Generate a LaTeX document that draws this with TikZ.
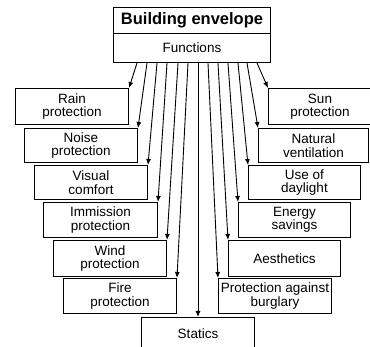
\documentclass[tikz,border=0pt]{standalone}
\usepackage{fontspec}
\setmainfont{Liberation Sans}
\usetikzlibrary{arrows.meta}
\begin{document}
\begin{tikzpicture}[x=1pt,y=-1pt,
  box/.style={draw=black,line width=1pt,fill=white,anchor=north west,inner sep=0pt,
    align=center,font=\fontsize{13.5}{13.5}\selectfont},
  conn/.style={line width=0.9pt,-{Latex[length=6pt,width=5pt]}}]
\clip (0,0) rectangle (370,347);
\fill[white] (0,0) rectangle (370,347);
% title boxes
\node[box,minimum width=157pt,minimum height=26pt,font=\fontsize{16.5}{18}\bfseries] (be) at (113,7) {Building envelope};
\node[box,minimum width=157pt,minimum height=29pt] (fn) at (113,33) {Functions};
% left column
\node[box,minimum width=113pt,minimum height=36pt] (rain) at (15,88) {Rain\\protection};
\node[box,minimum width=113pt,minimum height=34pt] (noise) at (24,128) {Noise\\protection};
\node[box,minimum width=113pt,minimum height=34pt] (visual) at (34,165) {Visual\\comfort};
\node[box,minimum width=114pt,minimum height=35pt] (immi) at (43,202) {Immission\\protection};
\node[box,minimum width=113pt,minimum height=36pt] (wind) at (53,240) {Wind\\protection};
\node[box,minimum width=113pt,minimum height=35pt] (fire) at (63,278) {Fire\\protection};
% bottom
\node[box,minimum width=113pt,minimum height=33pt] (statics) at (141,317) {Statics};
% right column
\node[box,minimum width=113pt,minimum height=35pt] (burg) at (218,278) {Protection against\\burglary};
\node[box,minimum width=112pt,minimum height=36pt] (aest) at (228,240) {Aesthetics};
\node[box,minimum width=112pt,minimum height=35pt] (energy) at (238,202) {Energy\\savings};
\node[box,minimum width=112pt,minimum height=34pt] (day) at (248,165) {Use of\\daylight};
\node[box,minimum width=110pt,minimum height=34pt] (vent) at (258,128) {Natural\\ventilation};
\node[box,minimum width=103pt,minimum height=36pt] (sun) at (268,88) {Sun\\protection};
% connectors
\draw[conn] ([xshift=24pt]fn.south west) -- (rain.north east);
\draw[conn] ([xshift=34pt]fn.south west) -- (noise.north east);
\draw[conn] ([xshift=44pt]fn.south west) -- (visual.north east);
\draw[conn] ([xshift=54pt]fn.south west) -- (immi.north east);
\draw[conn] ([xshift=65pt]fn.south west) -- (wind.north east);
\draw[conn] ([xshift=75pt]fn.south west) -- (fire.north east);
\draw[conn] ([xshift=85pt]fn.south west) -- ([xshift=57pt]statics.north west);
\draw[conn] ([xshift=95pt]fn.south west) -- (burg.north west);
\draw[conn] ([xshift=105pt]fn.south west) -- (aest.north west);
\draw[conn] ([xshift=115pt]fn.south west) -- (energy.north west);
\draw[conn] ([xshift=125pt]fn.south west) -- (day.north west);
\draw[conn] ([xshift=134pt]fn.south west) -- (vent.north west);
\draw[conn] ([xshift=144pt]fn.south west) -- (sun.north west);
\end{tikzpicture}
\end{document}
